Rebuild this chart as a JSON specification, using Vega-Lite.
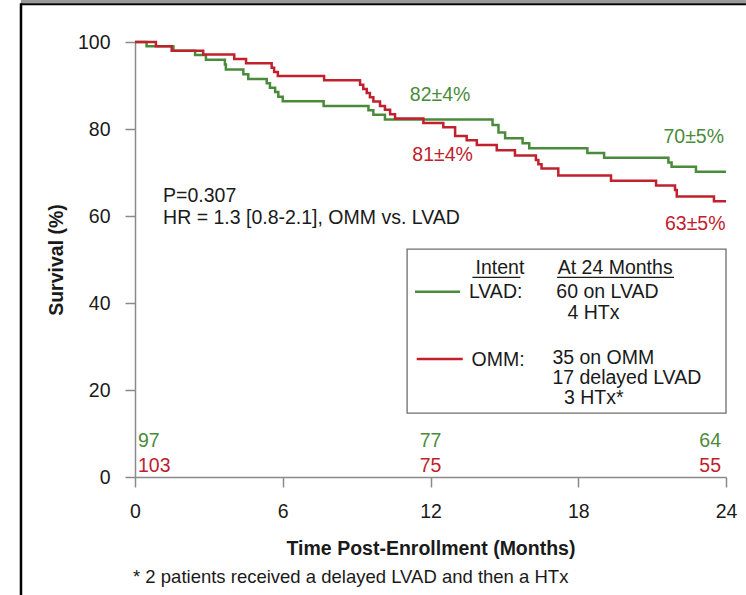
{
  "$schema": "https://vega.github.io/schema/vega-lite/v6.json",
  "width": 591,
  "height": 435,
  "autosize": {"type": "none"},
  "padding": {"left": 135, "top": 42, "right": 20, "bottom": 118},
  "background": "white",
  "config": {
    "view": {"stroke": null},
    "font": "Liberation Sans",
    "text": {"font": "Liberation Sans", "fontSize": 19.5, "baseline": "middle"}
  },
  "datasets": {
    "km": [
      {"group": "LVAD", "t": 0, "s": 100},
      {"group": "LVAD", "t": 0.47, "s": 99.0},
      {"group": "LVAD", "t": 1.56, "s": 98.0},
      {"group": "LVAD", "t": 2.44, "s": 97.0},
      {"group": "LVAD", "t": 2.88, "s": 95.9},
      {"group": "LVAD", "t": 3.65, "s": 94.8},
      {"group": "LVAD", "t": 3.69, "s": 93.7},
      {"group": "LVAD", "t": 4.40, "s": 92.6},
      {"group": "LVAD", "t": 4.60, "s": 91.5},
      {"group": "LVAD", "t": 5.35, "s": 90.5},
      {"group": "LVAD", "t": 5.48, "s": 89.5},
      {"group": "LVAD", "t": 5.69, "s": 88.5},
      {"group": "LVAD", "t": 5.82, "s": 87.4},
      {"group": "LVAD", "t": 6.00, "s": 86.4},
      {"group": "LVAD", "t": 7.66, "s": 85.3},
      {"group": "LVAD", "t": 9.48, "s": 84.3},
      {"group": "LVAD", "t": 9.68, "s": 83.3},
      {"group": "LVAD", "t": 10.15, "s": 82.2},
      {"group": "LVAD", "t": 14.52, "s": 80.9},
      {"group": "LVAD", "t": 14.76, "s": 79.2},
      {"group": "LVAD", "t": 15.03, "s": 77.9},
      {"group": "LVAD", "t": 15.74, "s": 76.7},
      {"group": "LVAD", "t": 16.01, "s": 75.6},
      {"group": "LVAD", "t": 18.37, "s": 74.5},
      {"group": "LVAD", "t": 19.05, "s": 73.4},
      {"group": "LVAD", "t": 21.66, "s": 72.3},
      {"group": "LVAD", "t": 21.79, "s": 71.3},
      {"group": "LVAD", "t": 22.78, "s": 70.2},
      {"group": "LVAD", "t": 24, "s": 70.2},
      {"group": "OMM", "t": 0, "s": 100},
      {"group": "OMM", "t": 0.85, "s": 99.0},
      {"group": "OMM", "t": 1.49, "s": 98.0},
      {"group": "OMM", "t": 2.77, "s": 97.1},
      {"group": "OMM", "t": 4.03, "s": 96.1},
      {"group": "OMM", "t": 4.51, "s": 95.1},
      {"group": "OMM", "t": 5.55, "s": 94.1},
      {"group": "OMM", "t": 5.65, "s": 93.1},
      {"group": "OMM", "t": 5.80, "s": 92.2},
      {"group": "OMM", "t": 7.68, "s": 91.2},
      {"group": "OMM", "t": 9.14, "s": 90.2},
      {"group": "OMM", "t": 9.27, "s": 89.2},
      {"group": "OMM", "t": 9.41, "s": 88.3},
      {"group": "OMM", "t": 9.54, "s": 87.3},
      {"group": "OMM", "t": 9.68, "s": 86.3},
      {"group": "OMM", "t": 9.95, "s": 85.3},
      {"group": "OMM", "t": 10.15, "s": 84.4},
      {"group": "OMM", "t": 10.36, "s": 83.4},
      {"group": "OMM", "t": 10.56, "s": 82.4},
      {"group": "OMM", "t": 11.71, "s": 81.4},
      {"group": "OMM", "t": 12.52, "s": 80.4},
      {"group": "OMM", "t": 13.00, "s": 78.4},
      {"group": "OMM", "t": 13.47, "s": 77.4},
      {"group": "OMM", "t": 13.88, "s": 76.3},
      {"group": "OMM", "t": 14.69, "s": 75.1},
      {"group": "OMM", "t": 15.43, "s": 73.9},
      {"group": "OMM", "t": 16.28, "s": 72.9},
      {"group": "OMM", "t": 16.38, "s": 71.9},
      {"group": "OMM", "t": 16.51, "s": 70.9},
      {"group": "OMM", "t": 17.19, "s": 69.3},
      {"group": "OMM", "t": 19.33, "s": 68.1},
      {"group": "OMM", "t": 21.16, "s": 67.0},
      {"group": "OMM", "t": 21.93, "s": 66.0},
      {"group": "OMM", "t": 22.00, "s": 64.5},
      {"group": "OMM", "t": 23.51, "s": 63.4},
      {"group": "OMM", "t": 24, "s": 63.4}
    ],
    "pct": [
      {"group": "LVAD", "t": 12.39, "s": 87.8, "label": "82±4%"},
      {"group": "OMM", "t": 12.49, "s": 74.0, "label": "81±4%"},
      {"group": "LVAD", "t": 22.69, "s": 78.2, "label": "70±5%"},
      {"group": "OMM", "t": 22.75, "s": 58.2, "label": "63±5%"}
    ],
    "risk": [
      {"group": "LVAD", "t": 0, "s": 8.2, "n": "97"},
      {"group": "OMM", "t": 0, "s": 2.5, "n": "103"},
      {"group": "LVAD", "t": 12, "s": 8.2, "n": "77"},
      {"group": "OMM", "t": 12, "s": 2.5, "n": "75"},
      {"group": "LVAD", "t": 24, "s": 8.2, "n": "64"},
      {"group": "OMM", "t": 24, "s": 2.5, "n": "55"}
    ],
    "stats": [
      {"t": 1.14, "s": 64.6, "label": "P=0.307"},
      {"t": 1.14, "s": 59.5, "label": "HR = 1.3 [0.8-2.1], OMM vs. LVAD"}
    ],
    "footnote": [
      {"t": -0.08, "s": -23.0, "label": "* 2 patients received a delayed LVAD and then a HTx"}
    ],
    "keyBox": [
      {"t": 11.05, "t2": 24.0, "s": 52.4, "s2": 14.7}
    ],
    "keyLines": [
      {"group": "LVAD", "t": 11.37, "t2": 13.2, "s": 42.6},
      {"group": "OMM", "t": 11.44, "t2": 13.31, "s": 27.1}
    ],
    "keyHeads": [
      {"t": 14.82, "s": 48.0, "label": "Intent", "u1": 13.70, "u2": 15.65, "us": 45.9},
      {"t": 19.5, "s": 48.0, "label": "At 24 Months", "u1": 17.14, "u2": 21.89, "us": 45.9}
    ],
    "keyText": [
      {"t": 13.56, "s": 42.6, "label": "LVAD:"},
      {"t": 17.11, "s": 42.6, "label": "60 on LVAD"},
      {"t": 17.56, "s": 37.6, "label": "4 HTx"},
      {"t": 13.67, "s": 26.9, "label": "OMM:"},
      {"t": 16.95, "s": 27.4, "label": "35 on OMM"},
      {"t": 16.95, "s": 22.7, "label": "17 delayed LVAD"},
      {"t": 17.42, "s": 18.1, "label": "3 HTx*"}
    ],
    "frameBand": [
      {"t": -4.63, "t2": 24.81, "s": 109.8, "s2": 108.9}
    ],
    "frameTop": [
      {"t": -4.63, "t2": 24.81, "s": 108.7}
    ],
    "frameLeft": [
      {"t": -4.63, "s": 108.9, "s2": -27.3}
    ]
  },
  "encoding": {
    "x": {
      "field": "t",
      "type": "quantitative",
      "scale": {"domain": [0, 24], "nice": false, "zero": false},
      "axis": {
        "title": "Time Post-Enrollment (Months)",
        "values": [0, 6, 12, 18, 24],
        "format": "d",
        "grid": false,
        "labelFlush": false,
        "labelFont": "Liberation Sans",
        "labelFontSize": 19.5,
        "labelColor": "#1a1a1a",
        "labelPadding": 15,
        "tickSize": 10,
        "tickColor": "#8a8a8a",
        "tickWidth": 1.5,
        "domainColor": "#8a8a8a",
        "domainWidth": 1.5,
        "titleFont": "Liberation Sans",
        "titleFontSize": 19.5,
        "titleFontWeight": "bold",
        "titleColor": "#1a1a1a",
        "titlePadding": 19
      }
    },
    "y": {
      "field": "s",
      "type": "quantitative",
      "scale": {"domain": [0, 100], "nice": false},
      "axis": {
        "title": "Survival (%)",
        "values": [0, 20, 40, 60, 80, 100],
        "grid": false,
        "labelFlush": false,
        "labelFont": "Liberation Sans",
        "labelFontSize": 19.5,
        "labelColor": "#1a1a1a",
        "labelPadding": 15,
        "tickSize": 10,
        "tickColor": "#8a8a8a",
        "tickWidth": 1.5,
        "domainColor": "#8a8a8a",
        "domainWidth": 1.5,
        "titleFont": "Liberation Sans",
        "titleFontSize": 19.5,
        "titleFontWeight": "bold",
        "titleColor": "#1a1a1a",
        "titlePadding": 11
      }
    }
  },
  "layer": [
    {
      "data": {"name": "km"},
      "mark": {"type": "line", "interpolate": "step-after", "strokeWidth": 2.5},
      "encoding": {
        "color": {"field": "group", "type": "nominal", "scale": {"domain": ["LVAD", "OMM"], "range": ["#4a8b3b", "#c0212d"]}, "legend": null}
      }
    },
    {
      "data": {"name": "pct"},
      "mark": {"type": "text", "align": "center"},
      "encoding": {
        "text": {"field": "label"},
        "color": {"field": "group", "type": "nominal", "legend": null}
      }
    },
    {
      "data": {"name": "risk"},
      "transform": [{"filter": "datum.t == 0"}],
      "mark": {"type": "text", "align": "left", "dx": 3},
      "encoding": {
        "text": {"field": "n"},
        "color": {"field": "group", "type": "nominal", "legend": null}
      }
    },
    {
      "data": {"name": "risk"},
      "transform": [{"filter": "datum.t == 12"}],
      "mark": {"type": "text", "align": "center"},
      "encoding": {
        "text": {"field": "n"},
        "color": {"field": "group", "type": "nominal", "legend": null}
      }
    },
    {
      "data": {"name": "risk"},
      "transform": [{"filter": "datum.t == 24"}],
      "mark": {"type": "text", "align": "right", "dx": -5},
      "encoding": {
        "text": {"field": "n"},
        "color": {"field": "group", "type": "nominal", "legend": null}
      }
    },
    {
      "data": {"name": "stats"},
      "mark": {"type": "text", "align": "left", "color": "#1a1a1a"},
      "encoding": {"text": {"field": "label"}}
    },
    {
      "data": {"name": "footnote"},
      "mark": {"type": "text", "align": "left", "color": "#1a1a1a", "fontSize": 18.5, "clip": false},
      "encoding": {"text": {"field": "label"}}
    },
    {
      "data": {"name": "keyBox"},
      "mark": {"type": "rect", "fill": "white", "stroke": "#6e6e6e", "strokeWidth": 1.3},
      "encoding": {
        "x2": {"field": "t2"},
        "y2": {"field": "s2"}
      }
    },
    {
      "data": {"name": "keyLines"},
      "mark": {"type": "rule", "strokeWidth": 2.5},
      "encoding": {
        "x2": {"field": "t2"},
        "color": {"field": "group", "type": "nominal", "legend": null}
      }
    },
    {
      "data": {"name": "keyHeads"},
      "mark": {"type": "text", "align": "center", "color": "#1a1a1a"},
      "encoding": {"text": {"field": "label"}}
    },
    {
      "data": {"name": "keyHeads"},
      "mark": {"type": "rule", "color": "#1a1a1a", "strokeWidth": 1.2},
      "encoding": {
        "x": {"field": "u1", "type": "quantitative"},
        "x2": {"field": "u2"},
        "y": {"field": "us", "type": "quantitative"}
      }
    },
    {
      "data": {"name": "keyText"},
      "mark": {"type": "text", "align": "left", "color": "#1a1a1a"},
      "encoding": {"text": {"field": "label"}}
    },
    {
      "data": {"name": "frameBand"},
      "mark": {"type": "rect", "color": "#9a9a9a", "clip": false},
      "encoding": {
        "x2": {"field": "t2"},
        "y2": {"field": "s2"}
      }
    },
    {
      "data": {"name": "frameTop"},
      "mark": {"type": "rule", "color": "black", "strokeWidth": 2, "clip": false},
      "encoding": {
        "x2": {"field": "t2"}
      }
    },
    {
      "data": {"name": "frameLeft"},
      "mark": {"type": "rule", "color": "black", "strokeWidth": 2.5, "clip": false},
      "encoding": {
        "y2": {"field": "s2"}
      }
    }
  ]
}
